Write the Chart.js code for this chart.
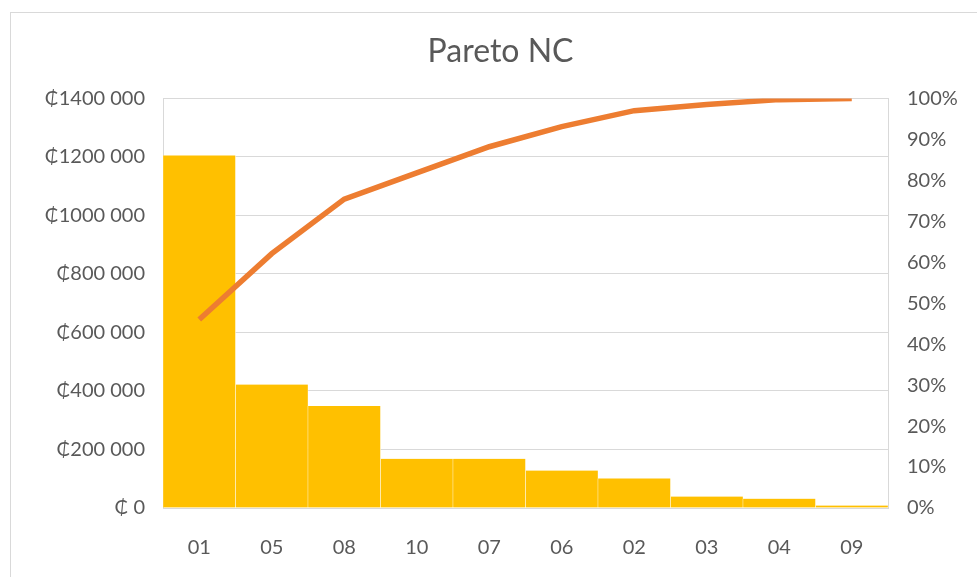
<!DOCTYPE html>
<html>
<head>
<meta charset="utf-8">
<script src="https://cdn.jsdelivr.net/npm/chart.js@4/dist/chart.umd.min.js"></script>
<style>
  html, body { margin: 0; padding: 0; background: #fff; overflow: hidden; }
  #frame { position: absolute; left: 10px; top: 12px; width: 1000px; height: 600px;
           border: 1px solid #d9d9d9; box-sizing: border-box; }
  #wrap { position: absolute; left: 0; top: 0; width: 977px; height: 577px; }
</style>
</head>
<body>
<div id="frame"></div>
<div id="wrap"><canvas id="pareto" width="977" height="577"></canvas></div>
<script>
// Nonconformity codes, sorted by cost (largest first)
const categories = ['01', '05', '08', '10', '07', '06', '02', '03', '04', '09'];
// Cost per code, in colones
const costs = [1205000, 422000, 349000, 168000, 168000, 128000, 101000, 39000, 32000, 8500];
// Cumulative share of total cost, in percent
const cumulativePct = [46.0, 62.1, 75.4, 81.8, 88.2, 93.1, 97.0, 98.5, 99.7, 100];
// Axis labels
const costTickLabels = ['₵ 0', '₵200 000', '₵400 000', '₵600 000', '₵800 000',
                        '₵1000 000', '₵1200 000', '₵1400 000'];
const pctTickLabels = ['0%', '10%', '20%', '30%', '40%', '50%',
                       '60%', '70%', '80%', '90%', '100%'];

const textColor = '#595959';
const gridColor = '#d9d9d9';
const fontFamily = 'Lato, "Open Sans", "DejaVu Sans", sans-serif';

new Chart(document.getElementById('pareto'), {
  data: {
    labels: categories,
    datasets: [
      {
        type: 'line',
        label: 'Acumulado',
        data: cumulativePct,
        yAxisID: 'y1',
        borderColor: '#ED7D31',
        borderWidth: 5.5,
        pointRadius: 0,
        tension: 0,
        order: 0
      },
      {
        type: 'bar',
        label: 'Costo',
        data: costs,
        yAxisID: 'y',
        backgroundColor: '#FFC000',
        borderColor: '#ffffff',
        borderWidth: { left: 0.5, right: 0.5, top: 0, bottom: 0 },
        barPercentage: 1,
        categoryPercentage: 1,
        order: 1
      }
    ]
  },
  options: {
    responsive: false,
    animation: false,
    layout: { padding: { left: 24, right: 0, top: 0, bottom: 0 } },
    plugins: {
      legend: { display: false },
      tooltip: { enabled: false },
      title: {
        display: true,
        text: 'Pareto NC',
        color: textColor,
        font: { family: fontFamily, size: 32, weight: 'normal' },
        padding: { top: 32, bottom: 28 }
      }
    },
    scales: {
      x: {
        grid: { display: false },
        border: { display: true, color: gridColor },
        ticks: {
          color: textColor,
          font: { family: fontFamily, size: 20 },
          padding: 20,
          maxRotation: 0
        },
        afterFit: (scale) => { scale.height = 69; }
      },
      y: {
        position: 'left',
        min: 0,
        max: 1400000,
        grid: { color: gridColor, lineWidth: 1, drawTicks: false },
        border: { display: true, color: gridColor },
        ticks: {
          stepSize: 200000,
          color: textColor,
          font: { family: fontFamily, size: 20 },
          padding: 18,
          callback: (value) => costTickLabels[Math.round(value / 200000)]
        },
        afterFit: (scale) => { scale.width = 139; }
      },
      y1: {
        position: 'right',
        min: 0,
        max: 100,
        grid: { display: false, drawTicks: false },
        border: { display: true, color: gridColor },
        ticks: {
          stepSize: 10,
          color: textColor,
          font: { family: fontFamily, size: 20 },
          padding: 19,
          callback: (value) => pctTickLabels[Math.round(value / 10)]
        },
        afterFit: (scale) => { scale.width = 89; }
      }
    }
  }
});
</script>
</body>
</html>
